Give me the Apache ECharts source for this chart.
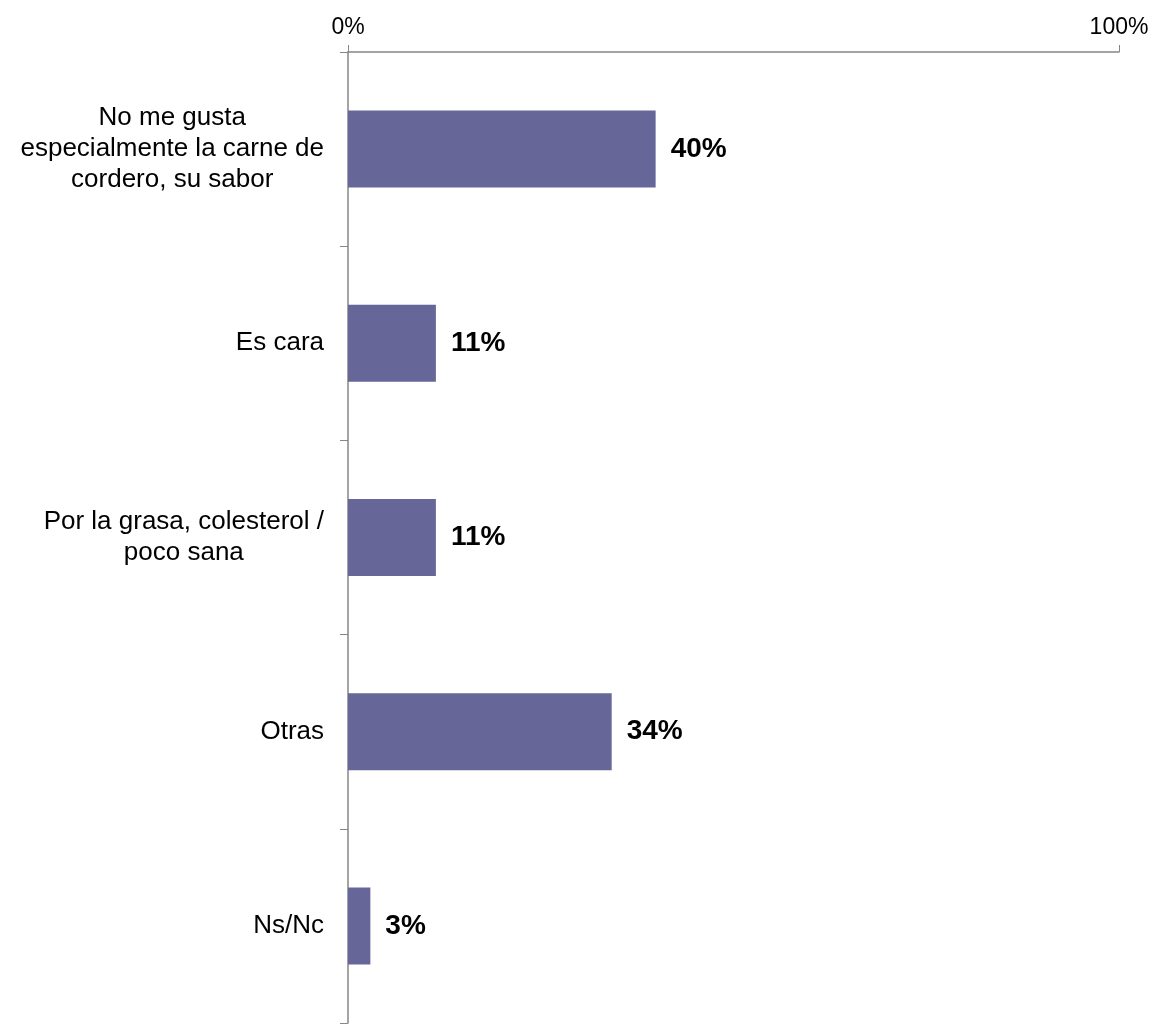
<!DOCTYPE html>
<html>
<head>
<meta charset="utf-8">
<script src="https://cdn.jsdelivr.net/npm/echarts@6/dist/echarts.min.js"></script>
<style>
  html, body { margin: 0; padding: 0; background: #fff; }
  #chart { width: 1153px; height: 1025px; }
</style>
</head>
<body>
<div id="chart"></div>
<script>
  // categories top to bottom
  var categories = [
    'No me gusta\nespecialmente la carne de\ncordero, su sabor',
    'Es cara',
    'Por la grasa, colesterol /\npoco sana',
    'Otras',
    'Ns/Nc'
  ];
  // bar lengths (labels show rounded %)
  var values = [39.9, 11.4, 11.4, 34.2, 2.9];
  var xTicks = [0, 100];

  var font = 'Liberation Sans, Arial, sans-serif';
  var chart = echarts.init(document.getElementById('chart'));
  var option = {
    animation: false,
    grid: { left: 348, right: 34, top: 52, bottom: 2 },
    xAxis: {
      type: 'value',
      position: 'top',
      min: xTicks[0],
      max: xTicks[1],
      interval: 100,
      splitLine: { show: false },
      axisLine: { show: true, lineStyle: { color: '#868686', width: 1.5 } },
      axisTick: { show: true, length: 7, lineStyle: { color: '#868686' } },
      axisLabel: {
        formatter: '{value}%',
        fontFamily: font,
        fontSize: 23,
        color: '#000',
        margin: 13
      }
    },
    yAxis: {
      type: 'category',
      data: categories,
      inverse: true,
      axisLine: { lineStyle: { color: '#868686', width: 1.5 } },
      axisTick: { show: true, length: 8, lineStyle: { color: '#868686' } },
      axisLabel: {
        align: 'right',
        margin: 24,
        formatter: function (v) {
          // lines centred inside a right-aligned block
          return v.split('\n').map(function (s) { return '{c|' + s + '}'; }).join('\n');
        },
        rich: {
          c: {
            align: 'center',
            fontFamily: font,
            fontSize: 26,
            lineHeight: 31,
            color: '#000'
          }
        }
      }
    },
    series: [{
      type: 'bar',
      data: values,
      barWidth: 77,
      itemStyle: { color: '#666699' },
      label: {
        show: true,
        position: 'right',
        distance: 15,
        fontFamily: font,
        fontSize: 28,
        fontWeight: 'bold',
        color: '#000',
        formatter: function (p) { return Math.round(p.value) + '%'; }
      }
    }]
  };
  chart.setOption(option);
</script>
</body>
</html>
